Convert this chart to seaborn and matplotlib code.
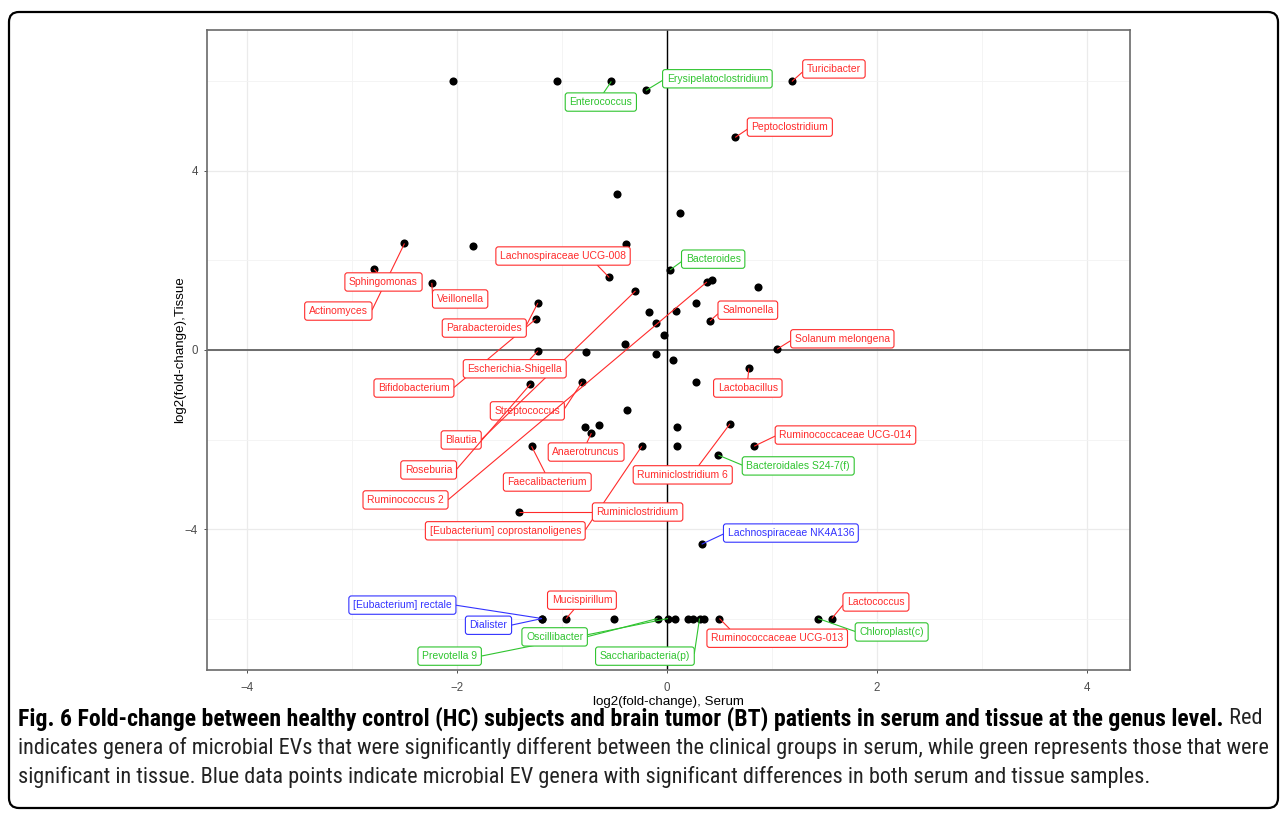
import numpy as np
import pandas as pd
import matplotlib
matplotlib.use("Agg")
import matplotlib.pyplot as plt
import seaborn as sns
from matplotlib.patches import FancyBboxPatch
from matplotlib.transforms import IdentityTransform
from matplotlib import font_manager

# ---------------- data ----------------
# labelled genera, in drawing order
genus = ["Streptococcus", "Actinomyces", "Bifidobacterium", "Blautia", "Ruminococcus 2",
         "Roseburia", "[Eubacterium] coprostanoligenes", "[Eubacterium] rectale", "Prevotella 9",
         "Turicibacter", "Peptoclostridium", "Enterococcus", "Erysipelatoclostridium",
         "Sphingomonas", "Veillonella", "Lachnospiraceae UCG-008", "Bacteroides",
         "Parabacteroides", "Escherichia-Shigella", "Salmonella", "Solanum melongena",
         "Anaerotruncus", "Faecalibacterium", "Ruminiclostridium", "Ruminiclostridium 6",
         "Lactobacillus", "Ruminococcaceae UCG-014", "Bacteroidales S24-7(f)",
         "Lachnospiraceae NK4A136", "Dialister", "Mucispirillum", "Oscillibacter",
         "Saccharibacteria(p)", "Ruminococcaceae UCG-013", "Lactococcus", "Chloroplast(c)"]
serum_fc = [-0.81, -2.50, -1.25, -0.30, 0.38,
            -1.30, -0.24, -1.19, 0.01,
            1.19, 0.65, -0.53, -0.20,
            -2.79, -2.24, -0.55, 0.03,
            -1.23, -1.23, 0.41, 1.05,
            -0.72, -1.29, -1.41, 0.60,
            0.78, 0.83, 0.49,
            0.33, -1.19, -0.96, -0.09,
            0.31, 0.50, 1.57, 1.44]
tissue_fc = [-0.72, 2.38, 0.69, 1.32, 1.52,
             -0.76, -2.15, -6.0, -6.0,
             6.0, 4.75, 6.0, 5.80,
             1.81, 1.50, 1.62, 1.79,
             1.05, -0.02, 0.65, 0.02,
             -1.86, -2.15, -3.62, -1.65,
             -0.41, -2.15, -2.35,
             -4.34, -6.0, -6.0, -6.0,
             -6.0, -6.0, -6.0, -6.0]
significant_in = ["serum", "serum", "serum", "serum", "serum",
                  "serum", "serum", "both", "tissue",
                  "serum", "serum", "tissue", "tissue",
                  "serum", "serum", "serum", "tissue",
                  "serum", "serum", "serum", "serum",
                  "serum", "serum", "serum", "serum",
                  "serum", "serum", "tissue",
                  "both", "both", "serum", "tissue",
                  "tissue", "serum", "serum", "tissue"]

# genera without a label
other_serum_fc = [-2.04, -1.05, -0.48, 0.12, -1.85, -0.39, 0.43, 0.87, -0.17, 0.09,
                  0.28, -0.10, -0.03, -0.40, -0.77, -0.10, 0.06, 0.28, -0.38, -0.78,
                  -0.65, 0.10, 0.10, -0.50, 0.08, 0.20, 0.25, 0.35]
other_tissue_fc = [6.0, 6.0, 3.48, 3.06, 2.32, 2.36, 1.56, 1.41, 0.85, 0.87,
                   1.05, 0.60, 0.34, 0.13, -0.04, -0.09, -0.22, -0.71, -1.33, -1.72,
                   -1.67, -1.72, -2.15, -6.0, -6.0, -6.0, -6.0, -6.0]

x_ticks = [-4, -2, 0, 2, 4]
y_ticks = [-4, 0, 4]
x_title = "log2(fold-change), Serum"
y_title = "log2(fold-change),Tissue"
caption_bold = ("Fig. 6 Fold-change between healthy control (HC) subjects and brain tumor (BT) "
                "patients in serum and tissue at the genus level.")
caption_lines = [" Red",
                 "indicates genera of microbial EVs that were significantly different between the "
                 "clinical groups in serum, while green represents those that were",
                 "significant in tissue. Blue data points indicate microbial EV genera with "
                 "significant differences in both serum and tissue samples."]

# ---------------- layout (label placement, styles) ----------------
label_pos = {
    "Turicibacter": (1.59, 6.28), "Peptoclostridium": (1.17, 4.98),
    "Enterococcus": (-0.63, 5.54), "Erysipelatoclostridium": (0.48, 6.06),
    "Sphingomonas": (-2.70, 1.52), "Actinomyces": (-3.13, 0.87),
    "Veillonella": (-1.97, 1.14), "Lachnospiraceae UCG-008": (-0.99, 2.10),
    "Bacteroides": (0.44, 2.03), "Parabacteroides": (-1.74, 0.49),
    "Bifidobacterium": (-2.41, -0.85), "Escherichia-Shigella": (-1.45, -0.42),
    "Salmonella": (0.77, 0.89), "Solanum melongena": (1.67, 0.25),
    "Streptococcus": (-1.33, -1.36), "Blautia": (-1.96, -2.01),
    "Roseburia": (-2.27, -2.68), "Ruminococcus 2": (-2.49, -3.35),
    "Anaerotruncus": (-0.77, -2.28), "Faecalibacterium": (-1.14, -2.95),
    "Ruminiclostridium": (-0.28, -3.62), "[Eubacterium] coprostanoligenes": (-1.54, -4.04),
    "Ruminiclostridium 6": (0.15, -2.79), "Lactobacillus": (0.77, -0.85),
    "Ruminococcaceae UCG-014": (1.70, -1.90), "Bacteroidales S24-7(f)": (1.25, -2.59),
    "Lachnospiraceae NK4A136": (1.18, -4.09), "[Eubacterium] rectale": (-2.52, -5.70),
    "Dialister": (-1.70, -6.15), "Mucispirillum": (-0.81, -5.59),
    "Oscillibacter": (-1.07, -6.41), "Prevotella 9": (-2.07, -6.84),
    "Saccharibacteria(p)": (-0.21, -6.84), "Ruminococcaceae UCG-013": (1.05, -6.44),
    "Lactococcus": (1.99, -5.63), "Chloroplast(c)": (2.14, -6.30),
}
group_colors = {"serum": "#ff2b2b", "tissue": "#2fc42f", "both": "#3333ff"}

W, H = 1281, 816
sns.set_theme(style="white")
plt.rcParams["font.family"] = ["Liberation Sans", "DejaVu Sans"]

fig = plt.figure(figsize=(W / 100, H / 100), dpi=100)
ax = fig.add_axes([207 / W, 1 - 670 / H, 923 / W, 640 / H])

df_lab = pd.DataFrame({"genus": genus, "serum": serum_fc, "tissue": tissue_fc,
                       "group": significant_in})
df_oth = pd.DataFrame({"serum": other_serum_fc, "tissue": other_tissue_fc})
df_all = pd.concat([df_oth, df_lab[["serum", "tissue"]]], ignore_index=True)

ax.set_xlim(-4.381, 4.410)
ax.set_ylim(-7.15, 7.15)
ax.set_xticks(x_ticks)
ax.set_yticks(y_ticks)
ax.set_xticks([-3, -1, 1, 3], minor=True)
ax.set_yticks([-6, -2, 2, 6], minor=True)
ax.set_axisbelow(True)
ax.grid(which="major", color="#ebebeb", lw=0.9)
ax.grid(which="minor", color="#f3f3f3", lw=0.6)
ax.tick_params(which="minor", length=0)
ax.tick_params(which="major", length=2.5, width=0.6, color="#333333",
               labelcolor="#4d4d4d", labelsize=8.3, direction="out",
               bottom=True, left=True)
ax.tick_params(axis="x", pad=6)
ax.tick_params(axis="y", pad=4)
for sp in ax.spines.values():
    sp.set_color("#6a6a6a")
    sp.set_linewidth(1.2)

ax.axhline(0, color="#555555", lw=1.2, zorder=1.5)
ax.axvline(0, color="black", lw=1.0, zorder=1.5)

sns.scatterplot(data=df_all, x="serum", y="tissue", color="black", s=34,
                linewidth=0, ax=ax, zorder=3, legend=False)

ax.set_xlabel(x_title, fontsize=9.6, color="black", labelpad=1.5)
ax.set_ylabel(y_title, fontsize=9.6, color="black", labelpad=-1)

texts = []
for i, row in df_lab.iterrows():
    c = group_colors[row["group"]]
    lx, ly = label_pos[row["genus"]]
    t = ax.text(lx, ly, row["genus"], ha="center", va="center", fontsize=7.5,
                color=c, zorder=10 + 2 * i + 1,
                bbox=dict(boxstyle="round,pad=0.4,rounding_size=0.25", fc="white",
                          ec=c, lw=0.8))
    texts.append(t)

# caption
names = {f.name for f in font_manager.fontManager.ttflist}
cap_font = next((n for n in ["Roboto Condensed", "Liberation Sans Narrow", "Open Sans Condensed"]
                 if n in names), "Open Sans")
cap_y = [719, 748, 777]
fs = 12.0
tb = fig.text(18 / W, 1 - cap_y[0] / H, caption_bold, fontsize=fs, fontweight="bold",
              family=[cap_font, "DejaVu Sans"], va="center", ha="left", color="black")
tr = [fig.text(18 / W, 1 - cap_y[k] / H, caption_lines[k], fontsize=fs,
               family=[cap_font, "DejaVu Sans"], va="center", ha="left", color="#222222")
      for k in range(3)]

fig.canvas.draw()
r = fig.canvas.get_renderer()
for _ in range(2):
    w2 = tr[1].get_window_extent(r).width
    fs = fs * 1245 / w2
    for t in tr:
        t.set_fontsize(fs)
    fig.canvas.draw()
fsb = fs
for _ in range(2):
    wr = tr[0].get_window_extent(r).width
    tb.set_fontsize(fsb)
    fig.canvas.draw()
    wb = tb.get_window_extent(r).width
    fsb = fsb * (1244 - wr) / wb
tb.set_fontsize(fsb)
fig.canvas.draw()
wb = tb.get_window_extent(r).width
tr[0].set_x((18 + wb) / W)

# segments (ggrepel-style connection to the label box)
fig.canvas.draw()
inv = ax.transData.inverted()
for i, row in df_lab.iterrows():
    t = texts[i]
    c = group_colors[row["group"]]
    bb = t.get_bbox_patch().get_window_extent(r)
    x0, y0, x1, y1 = bb.x0, bb.y0, bb.x1, bb.y1
    px, py = ax.transData.transform((row["serum"], row["tissue"]))
    if x0 <= px <= x1 and y0 <= py <= y1:
        continue
    left = right = top = bottom = False
    if x0 <= px <= x1:
        qx = px
    elif px > x1:
        qx = x1; right = True
    else:
        qx = x0; left = True
    if y0 <= py <= y1:
        qy = py
    elif py > y1:
        qy = y1; top = True
    else:
        qy = y0; bottom = True
    midx, midy = (x0 + x1) / 2, (y0 + y1) / 2
    d = np.hypot(px - qx, py - qy)
    if (top or bottom) and not (left or right):
        altd = np.hypot(px - midx, py - qy)
        qx = qx + (midx - qx) * d / altd
    elif (left or right) and not (top or bottom):
        altd = np.hypot(px - qx, py - midy)
        qy = qy + (midy - qy) * d / altd
    else:
        a1 = np.hypot(px - midx, py - qy)
        a2 = np.hypot(px - qx, py - midy)
        if a1 < a2:
            qx = qx + (midx - qx) * d / a1
        else:
            qy = qy + (midy - qy) * d / a2
    if np.hypot(px - qx, py - qy) < 5:
        continue
    qxd, qyd = inv.transform((qx, qy))
    ax.plot([row["serum"], qxd], [row["tissue"], qyd], color=c, lw=0.8,
            zorder=10 + 2 * i, solid_capstyle="butt")

# outer rounded frame
frame = FancyBboxPatch((9, H - 808), 1269, 796,
                       boxstyle="round,pad=0,rounding_size=10",
                       transform=IdentityTransform(), fc="none", ec="black", lw=1.6)
fig.patches.append(frame)

fig.savefig("out.png", dpi=100)
